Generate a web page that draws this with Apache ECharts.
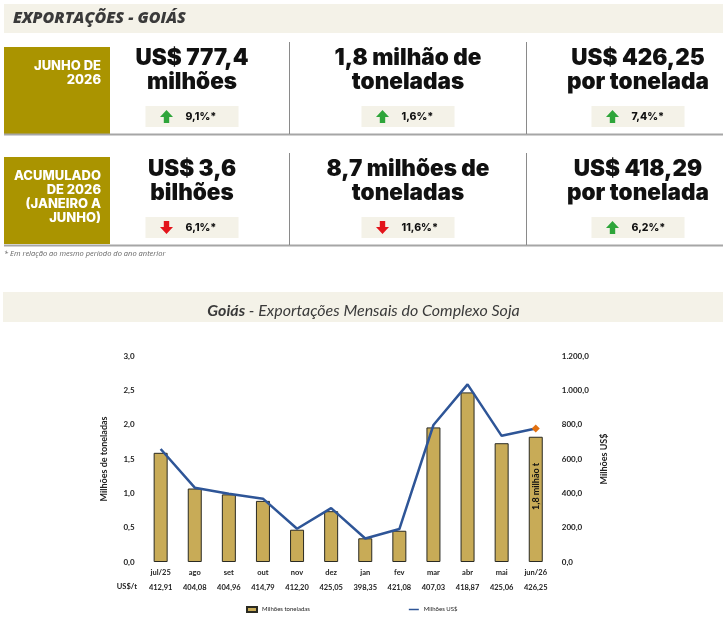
<!DOCTYPE html>
<html><head><meta charset="utf-8">
<script src="https://cdn.jsdelivr.net/npm/echarts@6/dist/echarts.min.js"></script>
<style>html,body{margin:0;padding:0;background:#fff}#c{width:727px;height:632px}</style>
</head><body><div id="c"></div>
<script>
// ---- data ----
const months = ['jul/25','ago','set','out','nov','dez','jan','fev','mar','abr','mai','jun/26'];
const tonnes = [1.59, 1.07, 0.985, 0.89, 0.47, 0.74, 0.345, 0.455, 1.96, 2.47, 1.73, 1.824];
const usdMillions = [658, 433, 398, 369, 194, 314, 137, 192, 798, 1035, 735, 777.4];
const pricePerTon = ['412,91','404,08','404,96','414,79','412,20','425,05','398,35','421,08','407,03','418,87','425,06','426,25'];
const priceRowLabel = 'US$/t';
const lastBarNote = '1,8 milhão t';
const seriesNames = ['Milhões toneladas', 'Milhões US$'];
const axisNames = ['Milhões de toneladas', 'Milhões US$'];
const pageTitle = 'EXPORTAÇÕES - GOIÁS';
const chartTitleBold = 'Goiás';
const chartTitleRest = ' - Exportações Mensais do Complexo Soja';
const footnote = '* Em relação ao mesmo período do ano anterior';
const kpiPeriods = ['JUNHO DE\n2026', 'ACUMULADO\nDE 2026\n(JANEIRO A\nJUNHO)'];
const kpiValuesJun = [['US$ 777,4','milhões'], ['1,8 milhão de','toneladas'], ['US$ 426,25','por tonelada']];
const kpiValuesAcc = [['US$ 3,6','bilhões'], ['8,7 milhões de','toneladas'], ['US$ 418,29','por tonelada']];
const kpiChangesJun = ['9,1%*', '1,6%*', '7,4%*'];
const kpiChangesAcc = ['6,1%*', '11,6%*', '6,2%*'];
const kpiUpJun = [true, true, true];
const kpiUpAcc = [false, false, true];

// ---- layout / styles ----
const OLIVE = '#AA9400', BAND = '#F4F2E8', GREEN = '#2EA53A', RED = '#E3141B';
const rows = [
  {box:[47,134], sep:[42,134], hline:134.5, l1:58, l2:82, badge:106, txt:58.7},
  {box:[157,244], sep:[153,245], hline:245.5, l1:169.5, l2:193.5, badge:217, txt:168.7}
];
const colCenters = [192, 408, 638];
const values = [kpiValuesJun, kpiValuesAcc];
const changes = [kpiChangesJun, kpiChangesAcc];
const ups = [kpiUpJun, kpiUpAcc];
const bigFont = '900 22.5px Inter, "Noto Sans", sans-serif';

function arrow(x, y, up, color) {
  const pts = up
    ? [[6.5,0],[13,7],[9.2,7],[9.2,13],[3.8,13],[3.8,7],[0,7]]
    : [[6.5,13],[13,6],[9.2,6],[9.2,0],[3.8,0],[3.8,6],[0,6]];
  return {type:'polygon', x:x, y:y, shape:{points:pts}, style:{fill:color}, silent:true};
}

const g = [];
g.push({type:'rect', shape:{x:4, y:4, width:719, height:29}, style:{fill:BAND}});
g.push({type:'rect', shape:{x:3, y:292, width:720, height:30}, style:{fill:BAND}});
rows.forEach((r, ri) => {
  g.push({type:'rect', shape:{x:4, y:r.box[0], width:106, height:r.box[1]-r.box[0]}, style:{fill:OLIVE}});
  g.push({type:'text', x:101, y:r.txt, style:{text:kpiPeriods[ri], fill:'#fff', font:'800 13px Inter, sans-serif', textAlign:'right', textVerticalAlign:'top', lineHeight:14}});
  g.push({type:'line', shape:{x1:4, y1:r.hline, x2:723, y2:r.hline}, style:{stroke:'#A6A6A6', lineWidth:2}});
  [289, 526].forEach(x => g.push({type:'line', shape:{x1:x+0.5, y1:r.sep[0], x2:x+0.5, y2:r.sep[1]}, style:{stroke:'#8A8A8A', lineWidth:1}}));
  colCenters.forEach((cx, ci) => {
    const v = values[ri][ci];
    g.push({type:'text', x:cx, y:r.l1, style:{text:v[0], fill:'#111', font:bigFont, textAlign:'center', textVerticalAlign:'middle'}});
    g.push({type:'text', x:cx, y:r.l2, style:{text:v[1], fill:'#111', font:bigFont, textAlign:'center', textVerticalAlign:'middle'}});
    const bl = cx - 46.5;
    g.push({type:'rect', shape:{x:bl, y:r.badge, width:93, height:21}, style:{fill:BAND}});
    const up = ups[ri][ci];
    g.push(arrow(bl + 14.5, r.badge + 4, up, up ? GREEN : RED));
    g.push({type:'text', x:bl + 40, y:r.badge + 10.5, style:{text:changes[ri][ci], fill:'#111', font:'800 10.5px Inter, sans-serif', textAlign:'left', textVerticalAlign:'middle'}});
  });
});
g.push({type:'text', x:4, y:254, style:{text:footnote, fill:'#666', font:'italic 7.5px "Open Sans", sans-serif', textAlign:'left', textVerticalAlign:'middle'}});
g.push({type:'text', x:137, y:587, style:{text:priceRowLabel, fill:'#222', font:'bold 7.5px Lato, sans-serif', textAlign:'right', textVerticalAlign:'middle'}});

const fmtLeft = v => v.toFixed(1).replace('.', ',');
const fmtRight = v => {
  const s = v.toFixed(1).split('.');
  return s[0].replace(/\B(?=(\d{3})+(?!\d))/g, '.') + ',' + s[1];
};

const barData = tonnes.map((v, i) => i === tonnes.length - 1
  ? {value:v, label:{show:true, formatter:lastBarNote, rotate:90, position:'inside', offset:[13,0],
      color:'#111', fontSize:9, fontWeight:'bold', fontFamily:'Lato, sans-serif'}}
  : v);
const lineData = usdMillions.map((v, i) => i === usdMillions.length - 1
  ? {value:v, symbol:'diamond', symbolSize:8, itemStyle:{color:'#E2700F'}}
  : v);

const chart = echarts.init(document.getElementById('c'), null, {renderer:'canvas'});
chart.setOption({
  backgroundColor:'#fff',
  animation:false,
  title:[
    {text:pageTitle, left:13, top:10, padding:0, textStyle:{fontFamily:'"Open Sans", sans-serif', fontStyle:'italic', fontWeight:800, fontSize:16, color:'#3A3A3A'}},
    {text:'{b|' + chartTitleBold + '}{n|' + chartTitleRest + '}', left:'center', top:298,
     textStyle:{rich:{
       b:{fontFamily:'Lato, sans-serif', fontStyle:'italic', fontWeight:'bold', fontSize:16, color:'#3A3A3A'},
       n:{fontFamily:'Lato, sans-serif', fontStyle:'italic', fontWeight:'normal', fontSize:16, color:'#3A3A3A'}}}}
  ],
  graphic:{elements:g},
  legend:{
    left:246, top:606, padding:0, itemWidth:10, itemHeight:5, itemGap:99,
    data:[{name:seriesNames[0], icon:'rect'}, {name:seriesNames[1], icon:'path://M0,0H20V3H0Z', itemStyle:{color:'#2E5597', borderWidth:0}}],
    textStyle:{fontSize:6, color:'#222', fontFamily:'Lato, sans-serif'}
  },
  grid:{left:143.6, right:174.2, top:356, bottom:70, containLabel:false},
  xAxis:{
    type:'category', data:months,
    axisLine:{show:false}, axisTick:{show:false},
    axisLabel:{
      interval:0, margin:3,
      formatter:(val, idx) => '{m|' + val + '}\n{p|' + pricePerTon[idx] + '}',
      rich:{
        m:{fontSize:7.5, fontWeight:'bold', color:'#222', fontFamily:'Lato, sans-serif', lineHeight:15},
        p:{fontSize:7.5, fontWeight:'bold', color:'#222', fontFamily:'Lato, sans-serif', lineHeight:15}
      }
    }
  },
  yAxis:[
    {type:'value', min:0, max:3, interval:0.5,
     name:axisNames[0], nameLocation:'middle', nameRotate:90, nameGap:35,
     nameTextStyle:{fontSize:9, fontWeight:'bold', color:'#222', fontFamily:'Lato, sans-serif'},
     axisLine:{show:false}, axisTick:{show:false}, splitLine:{show:false},
     axisLabel:{formatter:fmtLeft, margin:9, fontSize:8, fontWeight:'bold', color:'#222', fontFamily:'Lato, sans-serif'}},
    {type:'value', min:0, max:1200, interval:200, position:'right',
     name:axisNames[1], nameLocation:'middle', nameRotate:90, nameGap:45,
     nameTextStyle:{fontSize:9, fontWeight:'bold', color:'#222', fontFamily:'Lato, sans-serif'},
     axisLine:{show:false}, axisTick:{show:false}, splitLine:{show:false},
     axisLabel:{formatter:fmtRight, margin:9, fontSize:8, fontWeight:'bold', color:'#222', fontFamily:'Lato, sans-serif'}}
  ],
  series:[
    {name:seriesNames[0], type:'bar', data:barData, barWidth:14, yAxisIndex:0,
     itemStyle:{color:'#C8AB57', borderColor:'#2A2A22', borderWidth:1}},
    {name:seriesNames[1], type:'line', data:lineData, yAxisIndex:1, symbol:'none', showSymbol:true,
     lineStyle:{color:'#2E5597', width:2.5}, itemStyle:{color:'#2E5597'}}
  ]
});
</script></body></html>
